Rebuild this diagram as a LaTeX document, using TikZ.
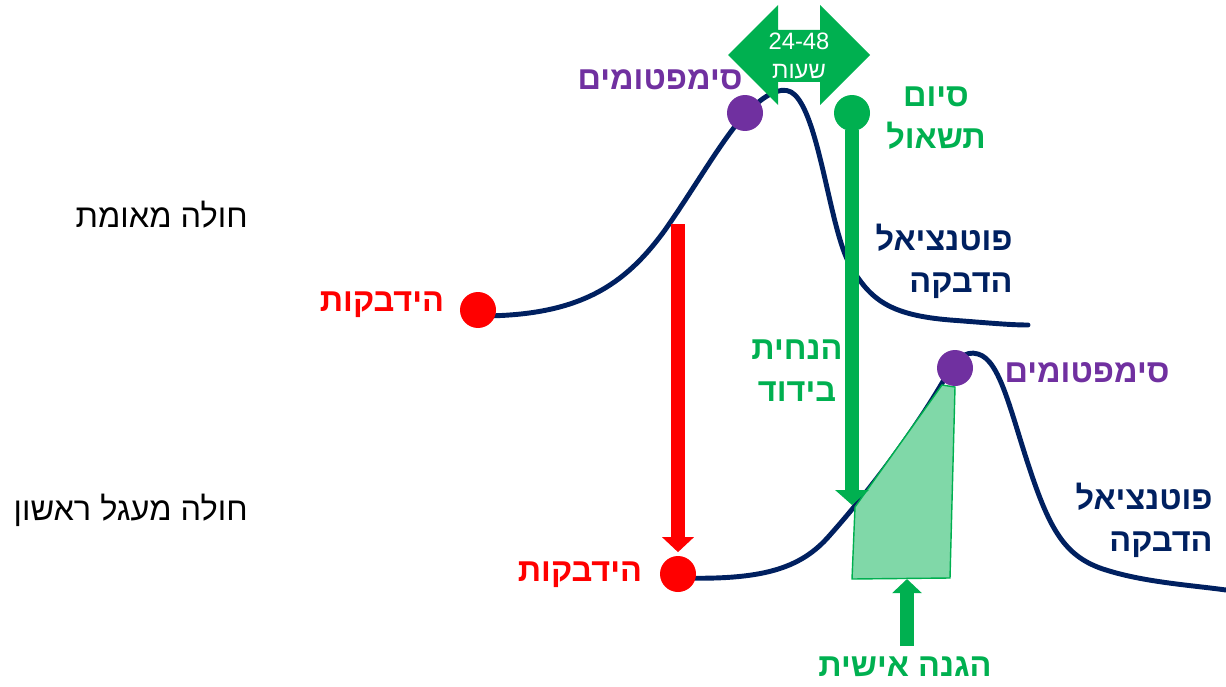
\documentclass[tikz,border=0pt]{standalone}
\usepackage{fontspec}
\usetikzlibrary{arrows.meta}
\TeXXeTstate=1
\newfontfamily\heb[Script=Hebrew]{Liberation Sans}
\definecolor{navy}{HTML}{002060}
\definecolor{purp}{HTML}{7030A0}
\definecolor{grn}{HTML}{00B050}
\definecolor{lgrn}{HTML}{80D8A8}
\definecolor{rd}{HTML}{FF0000}
\begin{document}
\begin{tikzpicture}[x=0.02cm,y=-0.02cm,
  dot/.style={circle,inner sep=0pt,minimum size=0.72cm},
  lbl/.style={font=\heb\bfseries\fontsize{18.5}{24}\selectfont,inner sep=0pt},
  plain/.style={font=\heb\fontsize{18.5}{24}\selectfont,inner sep=0pt},
  curve/.style={navy,line width=2.8pt,line cap=round}]
\useasboundingbox (0,0) rectangle (1226,686);
% upper curve
\draw[curve] (480,316) .. controls (580,316) and (625,285) .. (665,230)
  .. controls (700,180) and (730,125) .. (755,105)
  .. controls (770,92) and (785,85) .. (795,95)
  .. controls (820,120) and (830,230) .. (850,265)
  .. controls (870,300) and (890,315) .. (950,320)
  .. controls (990,323) and (1010,325) .. (1028,325);
% lower curve
\draw[curve] (680,578) .. controls (760,580) and (800,570) .. (830,535)
  .. controls (870,490) and (915,430) .. (945,378)
  .. controls (955,360) and (965,350) .. (978,354)
  .. controls (1000,360) and (1010,410) .. (1030,470)
  .. controls (1050,530) and (1065,555) .. (1100,568)
  .. controls (1140,582) and (1190,585) .. (1226,590);
% personal protection trapezoid
\draw[grn,fill=lgrn,line width=0.8pt] (855,507) -- (942,385) -- (955,387) -- (950,578) -- (852,579) -- cycle;
% dots
\node[dot,fill=rd] (r1) at (478,310) {};
\node[dot,fill=purp] (p1) at (745,113) {};
\node[dot,fill=grn] (g1) at (852,113) {};
\node[dot,fill=rd] (r2) at (678,574) {};
\node[dot,fill=purp] (p2) at (955,368) {};
% arrows
\coordinate (rtop) at (678,224);
\draw[rd,line width=8.5pt,-{Triangle[width=17.6pt,length=8.5pt]}] (rtop) -- ([yshift=2pt]r2.north);
\coordinate (gtip) at (852,505);
\draw[grn,line width=8.5pt,-{Triangle[width=18.7pt,length=8.5pt]}] ([yshift=1pt]g1.south) -- (gtip);
\coordinate (ubot) at (907,646);
\coordinate (utip) at (907,579);
\draw[grn,line width=8pt,-{Triangle[width=16.4pt,length=8pt]}] (ubot) -- (utip);
% double arrow
\fill[grn] (728,55) -- (778,5) -- (778,30) -- (820,30) -- (820,5) -- (870,55) -- (820,105) -- (820,82) -- (778,82) -- (778,105) -- cycle;
\node[font=\heb\fontsize{13.5}{16.5}\selectfont,text=white,align=center,inner sep=0pt] (hrs) at (799,56) {24-48\\\beginR שעות\endR};
% labels
\node[lbl,text=purp] (s1) at (660,80) {\beginR סימפטומים\endR};
\node[lbl,text=grn,align=center] (end) at (936,118) {\beginR סיום\endR\\\beginR תשאול\endR};
\node[lbl,text=navy,align=right,anchor=east] (pot1) at (1013,261) {\beginR פוטנציאל\endR\\\beginR הדבקה\endR};
\node[plain,text=black,anchor=east] (c1) at (248,215) {\beginR חולה מאומת\endR};
\node[plain,text=black,anchor=east] (c2) at (248,510) {\beginR חולה מעגל ראשון\endR};
\node[lbl,text=rd] (inf1) at (382,305) {\beginR הידבקות\endR};
\node[lbl,text=grn,align=center] (iso) at (797,371) {\beginR הנחית\endR\\\beginR בידוד\endR};
\node[lbl,text=purp] (s2) at (1087,373) {\beginR סימפטומים\endR};
\node[lbl,text=navy,align=right,anchor=east] (pot2) at (1213,520) {\beginR פוטנציאל\endR\\\beginR הדבקה\endR};
\node[lbl,text=rd] (inf2) at (580,575) {\beginR הידבקות\endR};
\node[lbl,text=grn] (prot) at (905,667) {\beginR הגנה אישית\endR};
\end{tikzpicture}
\end{document}
